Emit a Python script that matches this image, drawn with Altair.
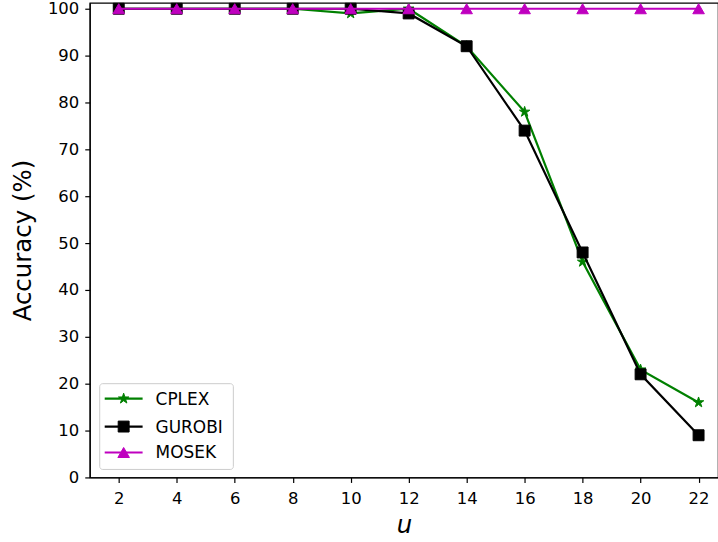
import altair as alt
import pandas as pd

# ---- data ----
u_values = [2, 4, 6, 8, 10, 12, 14, 16, 18, 20, 22]
cplex_acc = [100, 100, 100, 100, 99, 100, 92, 78, 46, 23, 16]
gurobi_acc = [100, 100, 100, 100, 100, 99, 92, 74, 48, 22, 9]
mosek_acc = [100, 100, 100, 100, 100, 100, 100, 100, 100, 100, 100]

series_names = ["CPLEX", "GUROBI", "MOSEK"]
series_colors = ["#008000", "#000000", "#bf00bf"]
STAR = ("M0,-1L0.2245,-0.309L0.951,-0.309L0.363,0.118L0.588,0.809L0,0.382"
        "L-0.588,0.809L-0.363,0.118L-0.951,-0.309L-0.2245,-0.309Z")
series_shapes = [STAR, "square", "triangle-up"]
series_sizes = [120, 120, 135]
x_ticks = [2, 4, 6, 8, 10, 12, 14, 16, 18, 20, 22]
y_ticks = [0, 10, 20, 30, 40, 50, 60, 70, 80, 90, 100]

rows = []
for name, vals in zip(series_names, [cplex_acc, gurobi_acc, mosek_acc]):
    for u, a in zip(u_values, vals):
        rows.append({"u": u, "acc": a, "solver": name})
df = pd.DataFrame(rows)

W, H = 630, 476
FONT = "DejaVu Sans"

xscale = alt.Scale(domain=[1, 22.67], nice=False, zero=False)
yscale = alt.Scale(domain=[0, 101.28], nice=False)

xenc = alt.X("u:Q", scale=xscale,
             axis=alt.Axis(values=x_ticks, title="u", titleFontStyle="italic",
                           titleFontSize=24.5, titlePadding=7, labelPadding=8,
                           format="d"))
yenc = alt.Y("acc:Q", scale=yscale,
             axis=alt.Axis(values=y_ticks, title="Accuracy (%)", titleFontSize=24.5,
                           titlePadding=12, labelPadding=6, format="d"))

layers = []
for name, col, shp, sz in zip(series_names, series_colors, series_shapes, series_sizes):
    base = alt.Chart(df).transform_filter(alt.datum.solver == name)
    line = base.mark_line(color=col, strokeWidth=2.2).encode(x=xenc, y=yenc)
    pts = base.mark_point(filled=True, color=col, shape=shp, size=sz, opacity=1,
                          stroke=col, strokeWidth=1).encode(x=xenc, y=yenc)
    layers += [line, pts]

# ---- manual legend (matplotlib style, lower left) ----
one = pd.DataFrame({"k": [0]})
legend_box = alt.Chart(one).mark_rect(fill="white", fillOpacity=0.8, stroke="#cccccc",
                                      strokeWidth=1, cornerRadius=3).encode(
    x=alt.value(10), x2=alt.value(144), y=alt.value(382), y2=alt.value(468))
layers.append(legend_box)
legend_y = [397, 425, 451]
for name, col, shp, sz, ly in zip(series_names, series_colors, series_shapes,
                                  series_sizes, legend_y):
    layers.append(alt.Chart(one).mark_rule(color=col, strokeWidth=2.2).encode(
        x=alt.value(15), x2=alt.value(53), y=alt.value(ly)))
    layers.append(alt.Chart(one).mark_point(filled=True, color=col, shape=shp, size=sz,
                                            opacity=1, stroke=col, strokeWidth=1).encode(
        x=alt.value(34), y=alt.value(ly)))
    layers.append(alt.Chart(one).mark_text(text=name, align="left", baseline="middle",
                                           font=FONT, fontSize=17, color="black").encode(
        x=alt.value(66), y=alt.value(ly + 1)))

chart = alt.layer(*layers).properties(
    width=W, height=H,
    background="white",
    autosize=alt.AutoSizeParams(type="none"),
    padding={"left": 90, "top": 2, "right": 0, "bottom": 64},
).configure_view(
    stroke="black", strokeWidth=1.2
).configure_axis(
    grid=False, domainColor="black", domainWidth=1.2, tickColor="black",
    tickWidth=1.2, tickSize=5, labelFont=FONT, labelFontSize=16.5, labelColor="black",
    titleFont=FONT, titleColor="black", titleFontWeight="normal",
)

chart.save("out.html", embed_options={"renderer": "svg", "actions": False})
